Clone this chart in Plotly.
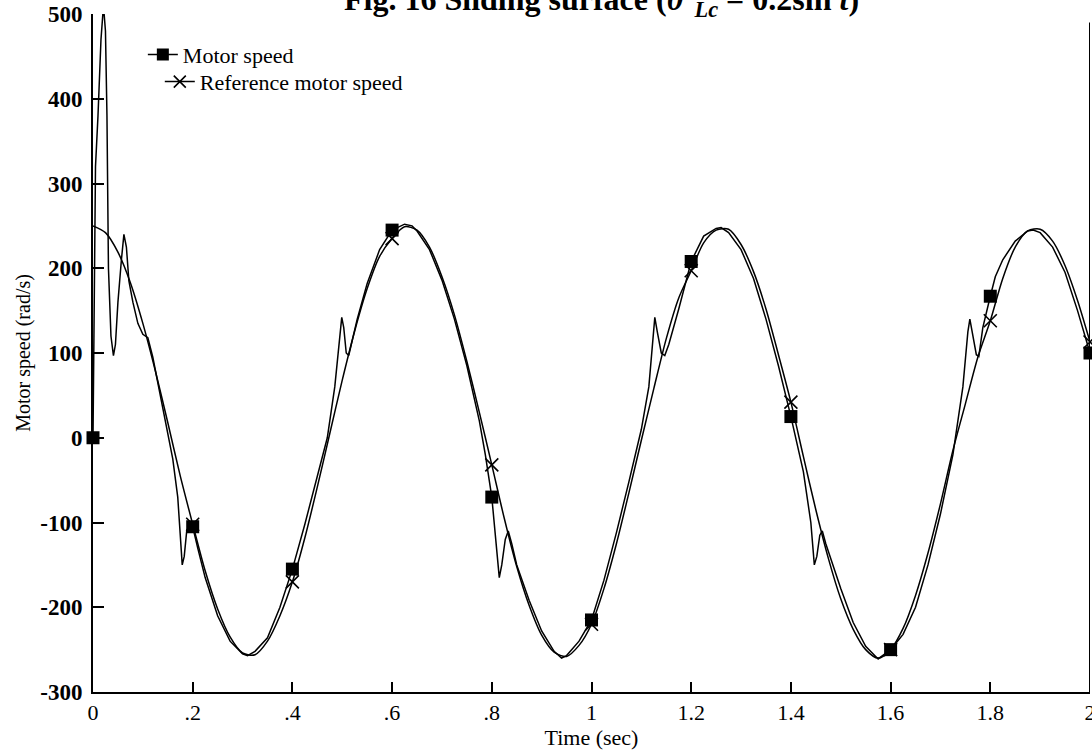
import plotly.graph_objects as go

# Measured motor speed (rad/s) against time (s)
motor_t = [0.0, 0.002, 0.005, 0.01, 0.016, 0.021, 0.025, 0.028, 0.031, 0.036, 0.041, 0.045,
           0.05, 0.057, 0.062, 0.067, 0.072, 0.08, 0.09, 0.1, 0.11, 0.12, 0.13, 0.14, 0.15,
           0.16, 0.17, 0.176, 0.179, 0.183, 0.188, 0.193, 0.2, 0.21, 0.225, 0.25, 0.275, 0.3,
           0.31, 0.325, 0.35, 0.375, 0.4, 0.425, 0.45, 0.47, 0.485, 0.495, 0.499, 0.503, 0.508,
           0.513, 0.52, 0.53, 0.55, 0.575, 0.6, 0.625, 0.64, 0.65, 0.675, 0.7, 0.725, 0.75,
           0.775, 0.787, 0.8, 0.808, 0.815, 0.82, 0.827, 0.833, 0.84, 0.85, 0.875, 0.9, 0.925,
           0.94, 0.95, 0.975, 1.0, 1.025, 1.05, 1.075, 1.1, 1.115, 1.123, 1.127, 1.132, 1.14,
           1.147, 1.155, 1.175, 1.2, 1.225, 1.25, 1.26, 1.275, 1.3, 1.325, 1.35, 1.375, 1.4,
           1.425, 1.44, 1.447, 1.452, 1.458, 1.463, 1.47, 1.5, 1.525, 1.55, 1.575, 1.6, 1.625,
           1.65, 1.675, 1.7, 1.725, 1.745, 1.755, 1.759, 1.765, 1.772, 1.777, 1.785, 1.8, 1.81,
           1.825, 1.85, 1.875, 1.886, 1.9, 1.925, 1.95, 1.975, 2.0]
motor_v = [0, 150, 320, 380, 470, 510, 480, 380, 200, 120, 97, 110,
           160, 210, 240, 225, 185, 160, 135, 122, 118, 95, 65, 35, 5,
           -25, -70, -125, -150, -140, -110, -103, -105, -130, -165, -210, -240, -255,
           -257, -252, -236, -200, -155, -102, -45, 0, 60, 125, 142, 130, 100,
           97, 115, 140, 182, 222, 245, 252, 250, 244, 222, 186, 140, 85,
           20, -20, -70, -120, -165, -150, -120, -110, -125, -150, -192, -228, -252,
           -260, -257, -240, -215, -168, -112, -52, 10, 60, 115, 142, 125, 100,
           97, 110, 152, 208, 238, 247, 248, 242, 222, 188, 140, 85, 25,
           -40, -100, -150, -140, -115, -110, -125, -178, -218, -246, -261, -250, -232,
           -200, -150, -90, -20, 60, 125, 140, 120, 98, 96, 130, 167, 190,
           210, 232, 244, 245, 242, 225, 195, 150, 100]

# Reference motor speed (rad/s), sampled every 0.025 s
ref_t = [round(0.025 * k, 3) for k in range(81)]
ref_v = [250, 242, 219, 183, 135, 79, 18, -45, -102, -157, -202, -235, -254, -256, -240, -210,
         -170, -118, -58, 5, 68, 126, 176, 214, 235, 249, 245, 225, 190, 145, 90, 30,
         -32, -95, -152, -198, -233, -253, -258, -245, -220, -178, -125, -65, -3, 58,
         117, 165, 197, 230, 245, 246, 228, 196, 152, 98, 42, -22, -85, -142, -190, -226,
         -250, -260, -250, -225, -186, -136, -78, -15, 40, 95, 138, 188, 225, 244,
         246, 232, 203, 162, 113]

x_tick_vals = [0, 0.2, 0.4, 0.6, 0.8, 1.0, 1.2, 1.4, 1.6, 1.8, 2.0]
x_tick_text = ["0", ".2", ".4", ".6", ".8", "1", "1.2", "1.4", "1.6", "1.8", "2"]
y_tick_vals = [-300, -200, -100, 0, 100, 200, 300, 400, 500]
y_tick_text = ["-300", "-200", "-100", "0", "100", "200", "300", "400", "500"]

FONT = "Liberation Serif"
INK = "black"


def on_marker_grid(ts, vs):
    """Keep the samples that fall on the 0.2 s marker grid."""
    xs, ys = [], []
    for t, v in zip(ts, vs):
        if abs(t / 0.2 - round(t / 0.2)) < 1e-6:
            xs.append(t)
            ys.append(v)
    return xs, ys


mk_motor_x, mk_motor_y = on_marker_grid(motor_t, motor_v)
mk_ref_x, mk_ref_y = on_marker_grid(ref_t, ref_v)
# the reference curve carries no marker at t = 0
mk_ref_x, mk_ref_y = mk_ref_x[1:], mk_ref_y[1:]

fig = go.Figure()
fig.add_trace(go.Scatter(x=ref_t, y=ref_v, mode="lines", showlegend=False,
                         line=dict(color=INK, width=1.5, shape="spline", smoothing=0.8)))
fig.add_trace(go.Scatter(x=motor_t, y=motor_v, mode="lines", showlegend=False,
                         line=dict(color=INK, width=1.5)))
fig.add_trace(go.Scatter(x=mk_ref_x, y=mk_ref_y, mode="markers", showlegend=False, cliponaxis=False,
                         marker=dict(symbol="x-thin", size=13, line=dict(color=INK, width=1.6))))
fig.add_trace(go.Scatter(x=mk_motor_x, y=mk_motor_y, mode="markers", showlegend=False, cliponaxis=False,
                         marker=dict(symbol="square", size=13, color=INK)))

# legend entries
fig.add_trace(go.Scatter(x=[None], y=[None], mode="lines+markers", name="Motor speed",
                         legend="legend",
                         line=dict(color=INK, width=1.5),
                         marker=dict(symbol="square", size=12, color=INK)))
fig.add_trace(go.Scatter(x=[None], y=[None], mode="lines+markers", name="Reference motor speed",
                         legend="legend2",
                         line=dict(color=INK, width=1.5),
                         marker=dict(symbol="x-thin", size=12, line=dict(color=INK, width=1.6))))

# right-hand frame edge
fig.add_shape(type="line", xref="x", yref="y", x0=2, x1=2, y0=-300, y1=490,
              line=dict(color=INK, width=2))

fig.add_annotation(
    text="<b>Fig. 16 Sliding surface (<i>θ</i><sup>*</sup><sub><i>Lc</i></sub> = 0.2sin <i>t</i>)</b>",
    xref="paper", yref="paper", x=0.51, y=1.0, xanchor="center", yanchor="bottom",
    yshift=-10, showarrow=False, font=dict(family=FONT, size=32, color=INK))

legend_common = dict(font=dict(family=FONT, size=22, color=INK), bgcolor="rgba(0,0,0,0)",
                     borderwidth=0, itemwidth=30, tracegroupgap=0,
                     xanchor="left", yanchor="middle")

fig.update_layout(
    width=1092, height=756,
    margin=dict(l=93, r=2, t=12, b=64),
    paper_bgcolor="white", plot_bgcolor="white",
    font=dict(family=FONT, color=INK),
    legend=dict(x=0.050, y=0.94, **legend_common),
    legend2=dict(x=0.067, y=0.90, **legend_common),
    xaxis=dict(range=[0, 2], tickvals=x_tick_vals, ticktext=x_tick_text,
               ticks="inside", ticklen=10, tickwidth=1.5, tickcolor=INK,
               showline=True, linecolor=INK, linewidth=2, mirror=False,
               showgrid=False, zeroline=False, ticklabeloverflow="allow", automargin=False,
               tickfont=dict(family=FONT, size=22, color=INK),
               title=dict(text="Time (sec)", font=dict(family=FONT, size=22, color=INK), standoff=4)),
    yaxis=dict(range=[-300, 500], tickvals=y_tick_vals, ticktext=y_tick_text,
               ticks="inside", ticklen=11, tickwidth=1.5, tickcolor=INK,
               showline=True, linecolor=INK, linewidth=2,
               showgrid=False, zeroline=False, ticklabelstandoff=4,
               tickfont=dict(family=FONT, size=23, color=INK, weight="bold"),
               title=dict(text="Motor speed (rad/s)", font=dict(family=FONT, size=20, color=INK),
                          standoff=4)),
)

fig.write_html("out.html")
